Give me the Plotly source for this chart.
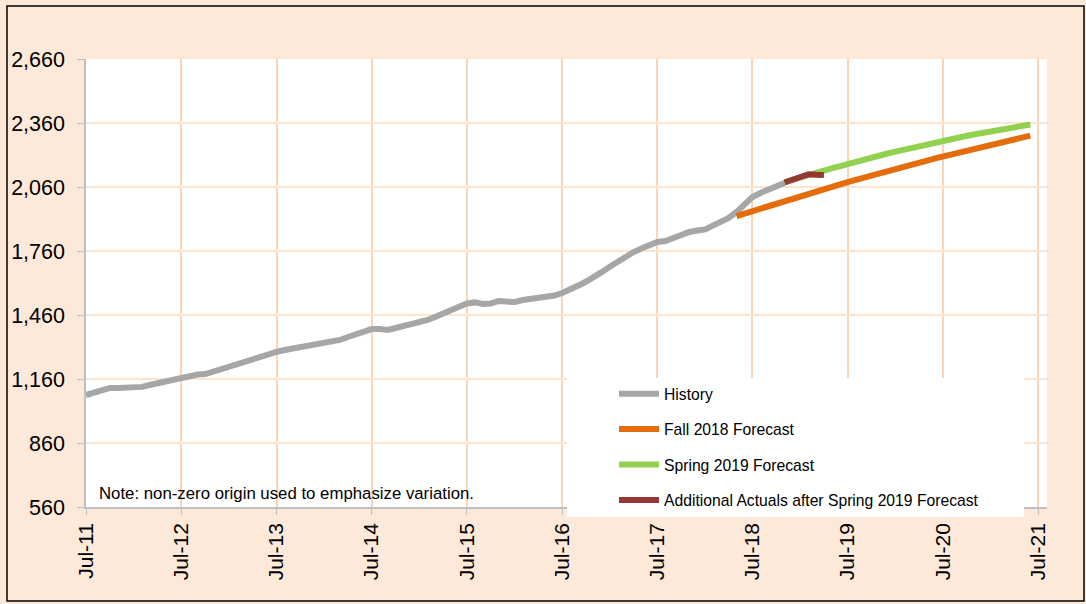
import pandas as pd
import plotly.graph_objects as go

# ---- data (monthly) ----
history_start = "2011-07-01"
history = [1085, 1097, 1109, 1118, 1118, 1118, 1120, 1123, 1132, 1141, 1146, 1155,
           1165, 1174, 1181, 1183, 1195, 1207, 1221, 1233, 1244, 1256, 1268, 1277,
           1287, 1296, 1303, 1310, 1315, 1326, 1329, 1336, 1343, 1357, 1371, 1380,
           1394, 1394, 1390, 1399, 1408, 1420, 1427, 1437, 1451, 1467, 1483, 1497,
           1514, 1519, 1512, 1514, 1526, 1523, 1521, 1530, 1535, 1537, 1540, 1551,
           1563, 1577, 1598, 1617, 1636, 1662, 1687, 1713, 1737, 1755, 1772, 1788,
           1802, 1807, 1823, 1835, 1849, 1856, 1861, 1880, 1898, 1915, 1943, 1980,
           2013, 2032, 2048, 2060, 2079]

fall_start = "2018-05-01"
fall_2018 = [1924, 1936, 1948, 1960, 1971, 1983, 1994, 2006, 2017, 2028, 2039, 2050,
             2061, 2072, 2083, 2093, 2104, 2114, 2124, 2135, 2145, 2155, 2165, 2174,
             2184, 2194, 2203, 2212, 2222, 2231, 2240, 2249, 2258, 2267, 2275, 2284,
             2292, 2301]

spring_start = "2018-11-01"
spring_2019 = [2083, 2095, 2107, 2116, 2126, 2137, 2147, 2158, 2168, 2178, 2188, 2198,
               2207, 2217, 2226, 2235, 2243, 2252, 2260, 2269, 2277, 2284, 2292, 2300,
               2307, 2314, 2321, 2328, 2334, 2341, 2347, 2353]

actuals_start = "2018-11-01"
additional_actuals = [2081, 2095, 2108, 2120, 2117, 2116]

series = [
    ("History", history_start, history, "#A6A6A6"),
    ("Fall 2018 Forecast", fall_start, fall_2018, "#E46C0A"),
    ("Spring 2019 Forecast", spring_start, spring_2019, "#92D050"),
    ("Additional Actuals after Spring 2019 Forecast", actuals_start, additional_actuals, "#953735"),
]

y_ticks = [560, 860, 1160, 1460, 1760, 2060, 2360, 2660]
note_text = "Note: non-zero origin used to emphasize variation."

FONT = "Liberation Sans, Arial, sans-serif"
PEACH = "#FDE9D9"

fig = go.Figure()
for i, (name, start, vals, color) in enumerate(series):
    dates = pd.date_range(start, periods=len(vals), freq="MS")
    fig.add_trace(go.Scatter(
        x=dates, y=vals, mode="lines", name=name,
        line=dict(color=color, width=6),
        legendgroup=f"g{i}",
    ))

# plot area geometry in pixels: x 86..1047, y 59..507
L, R, T, B = 86, 1047, 59, 507
W, H = R - L, B - T

def px(X):
    return (X - L) / W

def py(Y):
    return (B - Y) / H

fig.update_layout(
    width=1086, height=604,
    margin=dict(l=L, r=1086 - R, t=T, b=604 - B),
    paper_bgcolor=PEACH,
    plot_bgcolor="white",
    font=dict(family=FONT, color="black"),
    showlegend=True,
    legend=dict(
        x=px(614), y=py(377), xanchor="left", yanchor="top",
        bgcolor="rgba(0,0,0,0)", borderwidth=0,
        font=dict(size=15.7, family=FONT, color="black"),
        tracegroupgap=12, traceorder="grouped",
        itemwidth=40,
    ),
    xaxis=dict(
        type="date",
        range=["2011-07-01", "2021-08-04"],
        tick0="2011-07-01", dtick="M12", tickformat="%b-%y",
        tickangle=-90,
        tickfont=dict(size=21, family=FONT, color="black"),
        showgrid=True, gridcolor="#FBD5B5", gridwidth=2,
        showline=True, linecolor="#BFBFBF", linewidth=1.5,
        ticks="outside", ticklen=6, tickcolor="#BFBFBF",
        zeroline=False,
    ),
    yaxis=dict(
        range=[560, 2660],
        tickvals=y_ticks, tickformat=",d",
        tickfont=dict(size=21.5, family=FONT, color="black"),
        showgrid=True, gridcolor="#FCE4D2", gridwidth=2,
        showline=True, linecolor="#BFBFBF", linewidth=1.5,
        ticks="outside", ticklen=7, tickcolor="#BFBFBF",
        ticklabelstandoff=8,
        zeroline=False,
    ),
    annotations=[dict(
        text=note_text, xref="paper", yref="paper",
        x=px(97), y=py(493), xanchor="left", yanchor="middle",
        showarrow=False, font=dict(size=16.8, family=FONT, color="black"),
    )],
    shapes=[
        dict(
            type="rect", xref="paper", yref="paper", layer="above",
            x0=px(567), x1=px(1024), y0=py(517), y1=py(378),
            line=dict(width=0), fillcolor="white",
        ),
        dict(
            type="rect", xref="paper", yref="paper", layer="above",
            x0=px(7), x1=px(1084), y0=py(601), y1=py(6),
            line=dict(color="black", width=1.5), fillcolor="rgba(0,0,0,0)",
        ),
    ],
)

fig.write_html("out.html", config={"displayModeBar": False},
               post_script="document.body.style.margin='0';")
